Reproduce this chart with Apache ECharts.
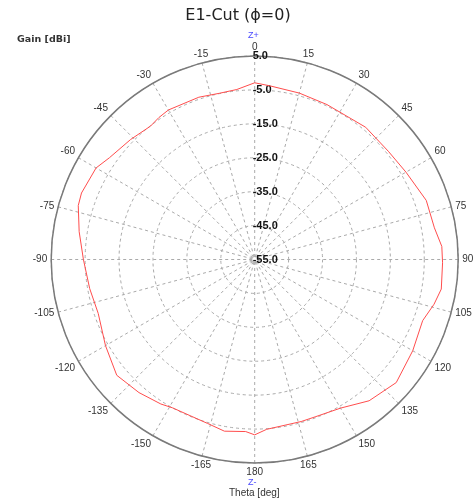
<!DOCTYPE html>
<html>
<head>
<meta charset="utf-8">
<script src="https://cdn.jsdelivr.net/npm/echarts/dist/echarts.min.js"></script>
<style>
html,body{margin:0;padding:0;background:#fff;}
#chart{width:476px;height:501px;}
</style>
</head>
<body>
<div id="chart"></div>
<script>
// Theta (deg, -180..180) and gain (dBi)
var thetaDeg = [-180, -177, -170, -164, -151, -147, -139, -130, -120, -109, -100, -90, -81, -73, -69, -60, -55, -46, -38, -34, -30, -19, -12, -6, 0, 5, 15, 25, 40, 51, 60, 71, 80, 86, 91, 99, 104, 110, 120, 131, 141, 150, 159, 164, 176, 180];
var gainDb   = [-3.3, -4.2, -3.6, -4.7, -5.0, -4.2, -3.0, -1.9, -4.2, -6.2, -5.6, -4.5, -2.6, -0.6, -0.3, -1.0, -2.7, -4.1, -5.1, -4.5, -4.1, -4.4, -4.9, -4.6, -2.9, -3.6, -4.2, -4.6, -4.1, -4.3, -3.5, -1.5, -1.2, 0.3, 0.4, 0.7, -0.5, -2.3, -1.2, 0.3, -1.4, -4.4, -5.3, -5.3, -4.8, -3.3];
var radiusTicks = [-55, -45, -35, -25, -15, -5, 5];
var angleTickStep = 15;

var seriesData = thetaDeg.map(function (t, i) {
  return [gainDb[i], (t + 360) % 360];
});

var chart = echarts.init(document.getElementById('chart'), null, {renderer: 'canvas'});
chart.setOption({
  animation: false,
  backgroundColor: '#ffffff',
  title: [
    {text: 'E1-Cut (\u03D5=0)', left: 'center', top: 3,
     textStyle: {fontFamily: 'DejaVu Sans', fontSize: 16, fontWeight: 'normal', color: '#222'}},
    {text: 'Gain [dBi]', left: 12, top: 30,
     textStyle: {fontFamily: 'DejaVu Sans', fontSize: 9.5, fontWeight: 'bold', color: '#333'}}
  ],
  graphic: [
    {type: 'text', left: 248, top: 31, style: {text: 'Z+', fill: '#4a4aff', font: '9px "Liberation Sans"'}},
    {type: 'text', left: 248, top: 478, style: {text: 'Z-', fill: '#4a4aff', font: '9px "Liberation Sans"'}},
    {type: 'text', left: 229, top: 488, style: {text: 'Theta [deg]', fill: '#333', font: '10px "Liberation Sans"'}}
  ],
  polar: {center: [254.7, 259.5], radius: 203.5},
  angleAxis: {
    type: 'value', min: 0, max: 360, interval: angleTickStep, startAngle: 90, clockwise: true,
    axisLine: {lineStyle: {color: '#7a7a7a', width: 1.5}},
    axisTick: {show: false},
    axisLabel: {
      margin: 4, color: '#333', fontSize: 10, fontFamily: 'Liberation Sans',
      formatter: function (v) { if (v === 360) return ''; return String(v > 180 ? v - 360 : v); }
    },
    splitLine: {show: true, lineStyle: {color: '#aaa', type: [3, 3], width: 1}}
  },
  radiusAxis: {
    type: 'value', min: radiusTicks[0], max: radiusTicks[radiusTicks.length - 1], interval: 10,
    axisLine: {show: false},
    axisTick: {show: false},
    axisLabel: {
      margin: 2, align: 'left', color: '#111', fontSize: 11, fontWeight: 'bold', fontFamily: 'Liberation Sans',
      formatter: function (v) { return v.toFixed(1); }
    },
    splitLine: {show: true, lineStyle: {color: '#aaa', type: [3, 3], width: 1}}
  },
  series: [{
    type: 'line', coordinateSystem: 'polar', data: seriesData,
    showSymbol: false, symbol: 'none',
    lineStyle: {color: '#ff4d4d', width: 1}
  }]
});
</script>
</body>
</html>
